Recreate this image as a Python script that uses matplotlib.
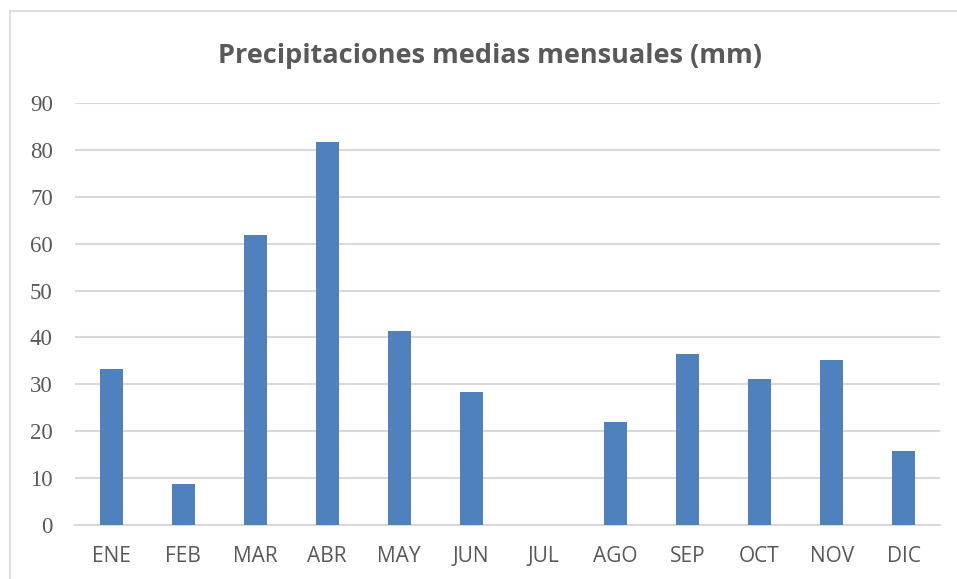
import matplotlib.pyplot as plt
from matplotlib.lines import Line2D

# datos
meses = ['ENE', 'FEB', 'MAR', 'ABR', 'MAY', 'JUN', 'JUL', 'AGO', 'SEP', 'OCT', 'NOV', 'DIC']
precip = [33.3, 8.7, 61.8, 81.7, 41.4, 28.4, 0.0, 22.0, 36.5, 31.1, 35.2, 15.8]
yticks = [0, 10, 20, 30, 40, 50, 60, 70, 80, 90]

gris = '#595959'

fig = plt.figure(figsize=(9.57, 5.79), dpi=100)
ax = fig.add_axes([0.0784, 0.0933, 0.9036, 0.7289])

ax.bar(range(len(meses)), precip, width=0.32, color='#4f81bd', zorder=3)

ax.set_xlim(-0.5, len(meses) - 0.5)
ax.set_ylim(0, 90)
ax.set_yticks(yticks)
ax.set_xticks(range(len(meses)))
ax.set_xticklabels(meses, fontfamily='Open Sans', fontsize=15, color=gris)
for lab in ax.get_yticklabels():
    lab.set_fontfamily('Liberation Serif')
    lab.set_fontsize(16.5)
    lab.set_color(gris)

ax.grid(axis='y', color='#d9d9d9', linewidth=1.5, zorder=0)
ax.tick_params(axis='both', length=0)
ax.tick_params(axis='y', pad=16)
ax.tick_params(axis='x', pad=15)
for s in ['top', 'right', 'left']:
    ax.spines[s].set_visible(False)
ax.spines['bottom'].set_color('#d9d9d9')
ax.spines['bottom'].set_linewidth(1.5)

fig.text(0.512, 0.904, 'Precipitaciones medias mensuales (mm)', ha='center', va='center',
         fontfamily='Open Sans', fontweight='bold', fontsize=19.5, color=gris)

# borde del área del gráfico (solo arriba e izquierda visibles)
fig.add_artist(Line2D([0.0105, 1.0], [0.981, 0.981], color='#d9d9d9', linewidth=1.2))
fig.add_artist(Line2D([0.0105, 0.0105], [0.0, 0.981], color='#d9d9d9', linewidth=1.2))

fig.savefig('out.png', dpi=100)
